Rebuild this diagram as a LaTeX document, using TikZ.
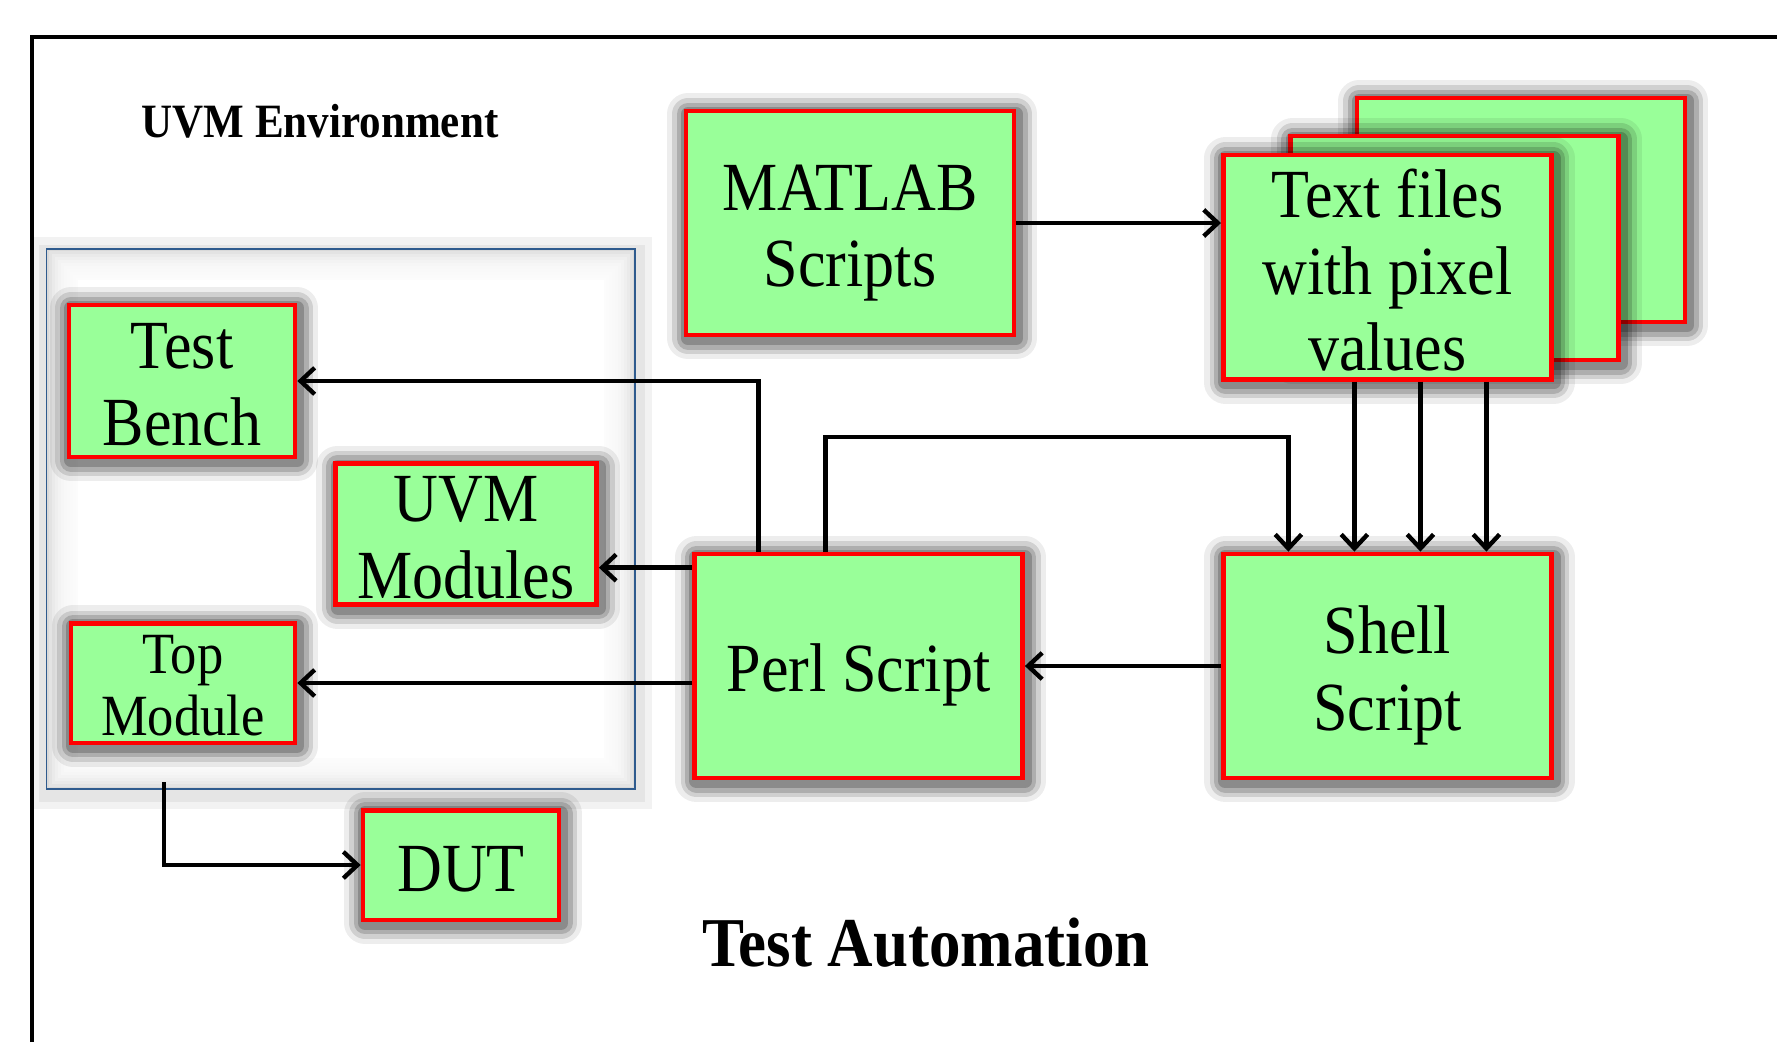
\documentclass[tikz,border=0pt]{standalone}
\usepackage{fontspec}
\setmainfont{Liberation Serif}[FakeStretch=0.9]
\usepackage{tikz}
\usetikzlibrary{positioning,calc,arrows.meta}

\definecolor{boxgreen}{HTML}{99FF99}
\definecolor{envblue}{HTML}{2F5B8E}
\newcommand{\boxfont}{\fontsize{19.6}{21.8}\selectfont}
\newcommand{\smallboxfont}{\fontsize{16.6}{17.7}\selectfont}

\begin{document}
\begin{tikzpicture}[x=0.01cm, y=-0.01cm]
      \tikzstyle{halo}=[preaction={draw=black, opacity=0.07, line width=12pt, line join=round, transform canvas={shift={(0.6pt,-0.9pt)}}},
                        preaction={draw=black, opacity=0.12, line width=9pt, line join=round, transform canvas={shift={(0.6pt,-0.9pt)}}},
                        preaction={draw=black, opacity=0.16, line width=6.5pt, line join=round, transform canvas={shift={(0.6pt,-0.9pt)}}},
                        preaction={draw=black, opacity=0.2, line width=4pt, line join=round, transform canvas={shift={(0.6pt,-0.9pt)}}}]
      \tikzstyle{script}=[rectangle, halo, draw=red, line width=1.3pt, fill=boxgreen, align=center, font=\boxfont, inner sep=0pt, text height=36.3pt, text depth=0pt, minimum width=3.28cm, minimum height=2.24cm]
      \tikzstyle{module}=[script, text height=36.6pt, minimum width=2.26cm, minimum height=1.52cm]
      \tikzstyle{env}=[rectangle, draw=envblue, line width=0.45pt, fill=black!15, minimum width=5.88cm, minimum height=5.395cm,
                       preaction={draw=black, opacity=0.05, line width=9pt, transform canvas={shift={(0.5pt,-1.2pt)}}},
                       preaction={draw=black, opacity=0.05, line width=5pt, transform canvas={shift={(0.5pt,-1.2pt)}}}]
      \tikzstyle{connect}=[-{Straight Barb[length=4pt, width=7.5pt]}, line width=1.25pt]
      \tikzstyle{title}=[font=\bfseries\fontsize{13.6}{16}\selectfont]

      \path[use as bounding box, fill=white] (0,0) rectangle (1777,1042);
      \draw[line width=1.2pt] (32,1042) -- (32,37) -- (1777,37);

      % uvm environment
      \node[env] (env) at (340.6,519) {};
      \foreach \i in {1,...,10}
        \fill[white, opacity=0.28] ($(env.south west)+(3*\i,-3*\i)$) rectangle ($(env.north east)+(-3*\i,3*\i)$);
      \fill[white] ($(env.south west)+(32,-32)$) rectangle ($(env.north east)+(-32,32)$);
      \node[title] (uvmenv) at (320,121) {UVM Environment};

      \node[module] (tb) at (182,381) {Test\\Bench};
      \node[module, minimum width=2.61cm, minimum height=1.41cm] (uvm) at (466,534) {UVM\\Modules};
      \node[module, minimum width=2.24cm, minimum height=1.195cm, font=\smallboxfont, text height=30.1pt] (top) at (183,683) {Top\\Module};
      \node[module, minimum width=1.96cm, minimum height=1.095cm, text height=15pt] (dut) at (461,865) {DUT};

      % scripts
      \node[script] (matlab) at (850,223) {MATLAB\\Scripts};
      \node[script, text height=14.3pt] (perl) at (858.5,666) {Perl Script};
      \node[script, text height=36.7pt, right=1.96cm of perl] (shell) {Shell\\Script};
      \node[script] (txt3) at (1521,210) {};
      \node[script] (txt2) at (1454.5,248) {};
      \node[script, text height=59pt, above=1.7cm of shell] (txt1) {Text files\\with pixel\\values};

      \node[font=\bfseries\fontsize{19.9}{23}\selectfont] (auto) at (926,943) {Test Automation};

      % connections
      \coordinate (p1) at ($(perl.north west)+(0,16)$);
      \coordinate (envout) at (164,782);

      \path (matlab.east) edge [connect] (matlab.east -| txt1.west);
      \draw[connect] ($(perl.north)+(-100,0)$) |- (tb.east);
      \draw[connect] (p1) -- (p1 -| uvm.east);
      \draw[connect] (perl.west |- top.east) -- (top.east);
      \draw[connect] ($(perl.north)+(-33,0)$) -- ++(0,-114.5) -| ($(shell.north)+(-99,0)$);
      \foreach \dx in {-33,33,99}
        \draw[connect] ($(txt1.south)+(\dx,0)$) -- ($(shell.north)+(\dx,0)$);
      \path (shell.west) edge [connect] (perl.east);
      \draw[connect] (envout) |- (dut.west);

    \end{tikzpicture}
\end{document}
